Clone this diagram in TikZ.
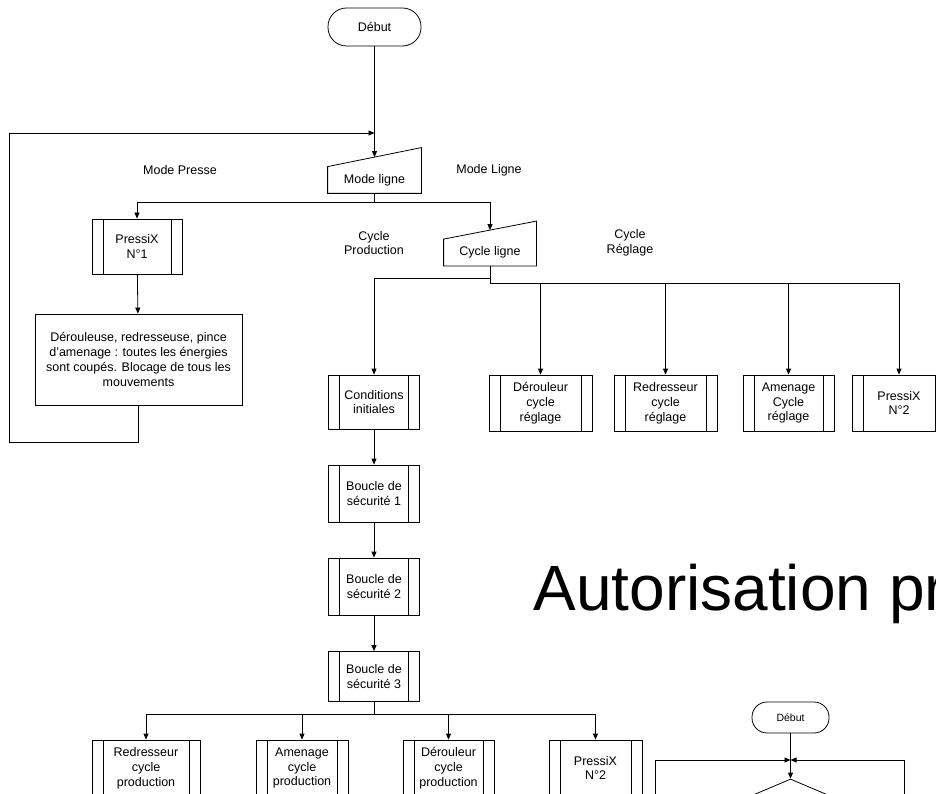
\documentclass[tikz,border=0pt]{standalone}
\usepackage{fontspec}
\setmainfont{Liberation Sans}
\usetikzlibrary{arrows.meta, positioning, shapes.geometric}

\begin{document}
\begin{tikzpicture}[
    x=1pt, y=-1pt,
    line width=0.8pt,
    >={Triangle[length=6pt, width=5pt]},
    every node/.style={font=\fontsize{12.5}{14.8}\selectfont, align=center},
    term/.style={
        draw,
        rounded corners=18.5pt,
        minimum width=93pt,
        minimum height=38pt,
        inner sep=0pt
    },
    manual/.style={
        minimum height=26pt,
        inner sep=0pt
    },
    subproc/.style={
        draw,
        minimum height=56pt,
        inner sep=0pt,
        path picture={
            \draw ([xshift=11pt]path picture bounding box.north west)
                -- ([xshift=11pt]path picture bounding box.south west)
                ([xshift=-11pt]path picture bounding box.north east)
                -- ([xshift=-11pt]path picture bounding box.south east);
        }
    },
    decision/.style={
        draw,
        diamond,
        aspect=2.36,
        minimum width=165pt,
        minimum height=70pt,
        inner sep=0pt
    }
]

% frame of the page
\useasboundingbox (0,0) rectangle (936,794);
\clip (0,0) rectangle (936,794);

% Start and mode choice
\node[term] (debut) at (374.5,27) {Début};
\node[manual, minimum width=93pt] (mode) at (374.5,180) {Mode ligne};
\coordinate (modetop) at ([yshift=9.5pt]mode.north);
\coordinate (retour) at (374.5,133);
\coordinate (split) at (374.5,202);

\node (presse) at (180,170) {Mode Presse};
\node (ligne) at (489,170) {Mode Ligne};

% Mode presse branch
\node[subproc, minimum width=90pt, minimum height=55pt] (px1) at (137,246.5) {PressiX\\N°1};
\node[draw, minimum width=207pt, minimum height=91pt, inner sep=0pt]
    (arret) at (138.5,359.5)
    {Dérouleuse, redresseuse, pince\\d’amenage : toutes les énergies\\sont coupés. Blocage de tous les\\mouvements};
\coordinate (coin) at (9,442);

% Mode ligne branch
\node[manual, minimum width=92pt] (cycle) at (490,252.5) {Cycle ligne};
\coordinate (cycletop) at ([yshift=9pt]cycle.north);
\node (prod) at (374,243) {Cycle\\Production};
\node (regl) at (630,243) {Cycle\\Réglage};
\coordinate (jprod) at (490,278);
\coordinate (jregl) at (490,283);

% Cycle reglage
\node[subproc, minimum width=103pt] (derregl) at (540.5,403) {Dérouleur\\cycle\\réglage};
\node[subproc, minimum width=103pt] (redregl) at (665.5,403) {Redresseur\\cycle\\réglage};
\node[subproc, minimum width=91pt] (ameregl) at (788.5,403) {Amenage\\Cycle\\réglage};
\node[subproc, minimum width=94pt] (px2a) at (899,403) {PressiX\\N°2};

% Cycle production
\node[subproc, minimum width=91pt, minimum height=54pt] (cond) at (374,402) {Conditions\\initiales};
\node[subproc, minimum width=91pt, minimum height=57pt] (bs1) at (374,493.5) {Boucle de\\sécurité 1};
\node[subproc, minimum width=91pt, minimum height=57pt] (bs2) at (374,586.5) {Boucle de\\sécurité 2};
\node[subproc, minimum width=91pt, minimum height=50pt] (bs3) at (374,676.5) {Boucle de\\sécurité 3};
\coordinate (jbas) at (374,714);

\node[subproc, minimum width=108pt] (redprod) at (146,768) {Redresseur\\cycle\\production};
\node[subproc, minimum width=92pt] (ameprod) at (302,768) {Amenage\\cycle\\production};
\node[subproc, minimum width=91pt] (derprod) at (448.5,768) {Dérouleur\\cycle\\production};
\node[subproc, minimum width=93pt] (px2b) at (595.5,768) {PressiX\\N°2};

% Big title
\node[anchor=base west, inner sep=0pt, font=\fontsize{64}{70}\selectfont]
    (titre) at (533,610) {Autorisation pr};

% Second chart (cut by the page)
\node[term, minimum width=77pt, minimum height=31pt, rounded corners=15pt,
      font=\fontsize{10.5}{12}\selectfont] (debut2) at (790.5,717.5) {Début};
\node[decision] (test) at (790.5,814) {};
\coordinate (entree) at (790.5,760);
\coordinate (gauche) at (655,800);
\coordinate (droite) at (904,800);

% manual input shapes
\foreach \n/\s in {mode/19, cycle/18}
    \draw (\n.north west) -- (\n.south west) -- (\n.south east)
        -- ([yshift=\s pt]\n.north east) -- cycle;

% Connectors
\draw[->] (debut) -- (modetop);
\draw (mode) -- (split);
\draw[->] (split) -| (px1);
\draw[->] (split) -| (cycletop);
\draw[->] (px1) -- (arret);
\draw[->] (arret) |- (coin) |- (retour);

\draw (cycle.south) -- (jregl) -- (jregl -| px2a);
\foreach \n in {derregl, redregl, ameregl, px2a}
    \draw[->] (jregl -| \n) -- (\n);
\draw[->] (jprod) -| (cond);

\draw[->] (cond) -- (bs1);
\draw[->] (bs1) -- (bs2);
\draw[->] (bs2) -- (bs3);
\draw (bs3) -- (jbas);
\draw (jbas -| redprod) -- (jbas -| px2b);
\foreach \n in {redprod, ameprod, derprod, px2b}
    \draw[->] (jbas -| \n) -- (\n);

\draw[->] (debut2) -- (test);
\draw[->] (gauche) |- (entree);
\draw[->] (droite) |- (entree);

\end{tikzpicture}
\end{document}
